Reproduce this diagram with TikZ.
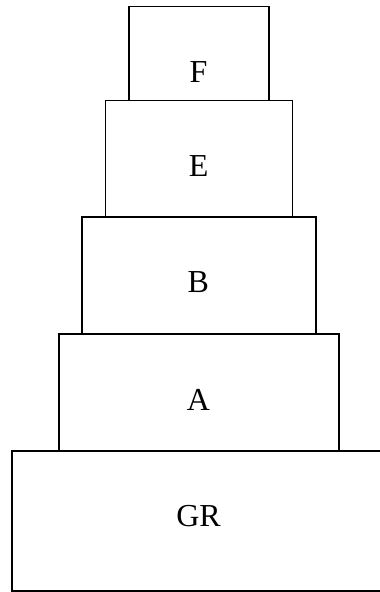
\documentclass[tikz,border=0pt]{standalone}
\usepackage{fontspec}
\setmainfont{Liberation Serif}
\begin{document}
\begin{tikzpicture}[x=1pt,y=-1pt,
  tier/.style={draw=black, line width=1.4pt, fill=white, inner sep=0pt},
  tiertext/.style={anchor=base, inner sep=0pt, font=\fontsize{32}{38}\selectfont}]
\useasboundingbox (0,0) rectangle (380,592);
\fill[white] (0,0) rectangle (380,592);
\node[tier, minimum width=374pt, minimum height=140pt] (GRbox) at (199,521) {};
\node[tier, minimum width=280pt, minimum height=117pt] (Abox) at (199,392.5) {};
\node[tier, minimum width=234pt, minimum height=117pt] (Bbox) at (199,275.5) {};
\node[tier, minimum width=187pt, minimum height=116.5pt] (Ebox) at (199,158.7) {};
\node[tier, minimum width=140pt, minimum height=93.6pt] (Fbox) at (199,53.5) {};
\node[tiertext] (GR) at (198.6,526.5) {GR};
\node[tiertext] (A) at (198.5,410.7) {A};
\node[tiertext] (B) at (198.4,292.7) {B};
\node[tiertext] (E) at (198.6,176.7) {E};
\node[tiertext] (F) at (198.4,82.3) {F};
\end{tikzpicture}
\end{document}
